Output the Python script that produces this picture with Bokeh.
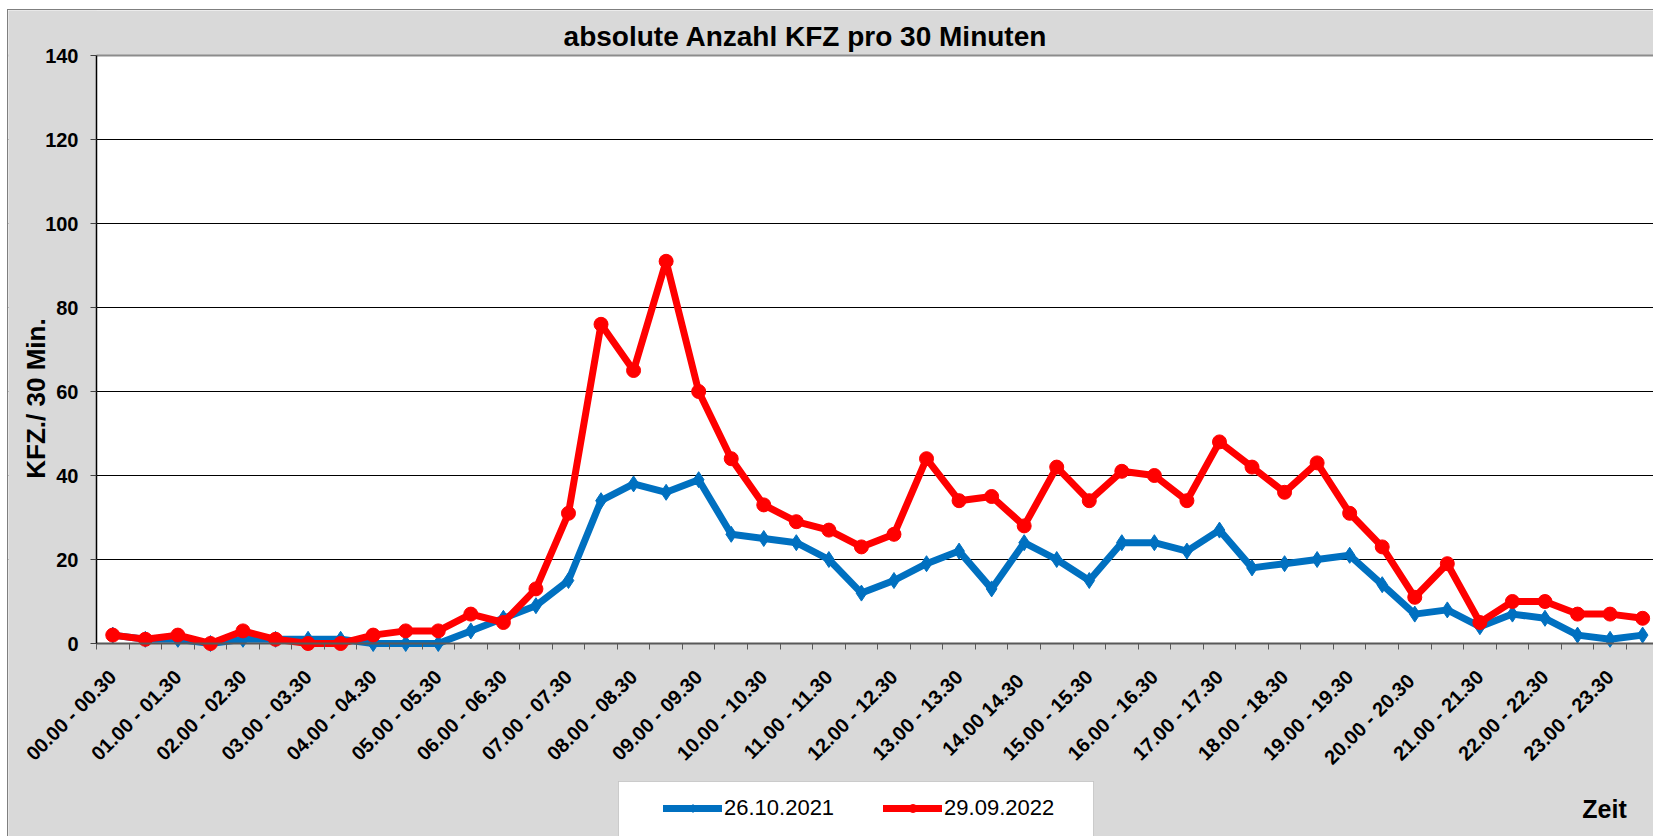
import math
from bokeh.plotting import figure
from bokeh.models import (FixedTicker, Legend, LegendItem, Span, Range1d, Label, BoxAnnotation)
from bokeh.embed import file_html
from bokeh.resources import INLINE

# ---- data ----
tick_labels = ["00.00 - 00.30", "01.00 - 01.30", "02.00 - 02.30", "03.00 - 03.30",
               "04.00 - 04.30", "05.00 - 05.30", "06.00 - 06.30", "07.00 - 07.30",
               "08.00 - 08.30", "09.00 - 09.30", "10.00 - 10.30", "11.00 - 11.30",
               "12.00 - 12.30", "13.00 - 13.30", "14.00  14.30", "15.00 - 15.30",
               "16.00 - 16.30", "17.00 - 17.30", "18.00 - 18.30", "19.00 - 19.30",
               "20.00 -  20.30", "21.00 - 21.30", "22.00 - 22.30", "23.00 - 23.30"]
slots = list(range(48))  # half-hour slots
series_2021 = [2, 1, 1, 0, 1, 1, 1, 1, 0, 0, 0, 3, 6,
               9, 15, 34, 38, 36, 39, 26, 25, 24, 20, 12, 15, 19, 22, 13,
               24, 20, 15, 24, 24, 22, 27, 18, 19, 20, 21, 14, 7, 8, 4, 7, 6, 2, 1, 2]
series_2022 = [2, 1, 2, 0, 3, 1, 0, 0, 2, 3, 3, 7, 5,
               13, 31, 76, 65, 91, 60, 44, 33, 29, 27, 23, 26, 44, 34, 35,
               28, 42, 34, 41, 40, 34, 48, 42, 36, 43, 31, 23, 11, 19, 5, 10, 10, 7, 7, 6]
name_2021 = "26.10.2021"
name_2022 = "29.09.2022"
y_ticks = [0, 20, 40, 60, 80, 100, 120, 140]
title_text = "absolute Anzahl KFZ pro 30 Minuten"
y_title = "KFZ./ 30 Min."
x_title = "Zeit"

FONT = "Liberation Sans"
BLUE = "#0070C0"
RED = "#FF0000"
GRAY_BG = "#D9D9D9"

# layout (pixels); the frame spans the whole canvas
W, H = 1646, 827
CAT_W = 32.55            # width of one half-hour slot
LEFT_PAD = 88            # canvas px left of the value axis
RIGHT_SPAN = 1558        # canvas px right of the value axis
TOP_PAD = 45             # canvas px above the top value
PX_PER_UNIT = 4.2        # vertical scale
X_START = slots[0] - 0.5
x_lo = X_START - LEFT_PAD / CAT_W
x_hi = X_START + RIGHT_SPAN / CAT_W
y_hi = y_ticks[-1] + TOP_PAD / PX_PER_UNIT
y_lo = y_hi - H / PX_PER_UNIT

p = figure(width=W, height=H, output_backend="svg", toolbar_location=None,
           x_range=Range1d(x_lo, x_hi), y_range=Range1d(y_lo, y_hi),
           min_border_left=0, min_border_right=0, min_border_top=0, min_border_bottom=0,
           background_fill_color=GRAY_BG, border_fill_color=GRAY_BG,
           outline_line_color=None,
           styles={"margin-left": "7px", "margin-top": "9px",
                   "border-left": "1px solid #7f7f7f", "border-top": "1px solid #7f7f7f"})
if p.title is not None:
    p.title.visible = False

# white plotting area
p.add_layout(BoxAnnotation(left=X_START, bottom=y_ticks[0], top=y_ticks[-1], fill_color="white",
                           fill_alpha=1, line_color=None, level="image"))

# x axis, drawn at value 0
p.xaxis.fixed_location = y_ticks[0]
p.xaxis.bounds = (X_START, slots[-1] + 0.5)
p.xaxis.ticker = FixedTicker(ticks=slots[::2], minor_ticks=[s - 0.5 for s in slots] + [slots[-1] + 0.5])
p.xaxis.major_label_overrides = {s: lab for s, lab in zip(slots[::2], tick_labels)}
p.xaxis.major_label_orientation = math.pi / 4
p.xaxis.major_label_text_font = FONT
p.xaxis.major_label_text_font_style = "bold"
p.xaxis.major_label_text_font_size = "20px"
p.xaxis.major_label_text_color = "black"
p.xaxis.major_label_standoff = 24
p.xaxis.major_tick_out = 0
p.xaxis.major_tick_in = 0
p.xaxis.minor_tick_out = 6
p.xaxis.minor_tick_in = 0
p.xaxis.minor_tick_line_color = "#595959"
p.xaxis.axis_line_color = "#595959"
p.xaxis.axis_line_width = 2

# y axis, drawn at the left edge of the first slot
p.yaxis.fixed_location = X_START
p.yaxis.bounds = (y_ticks[0], y_ticks[-1])
p.yaxis.ticker = FixedTicker(ticks=y_ticks)
p.yaxis.major_label_text_font = FONT
p.yaxis.major_label_text_font_style = "bold"
p.yaxis.major_label_text_font_size = "20px"
p.yaxis.major_label_text_color = "black"
p.yaxis.major_label_standoff = 12
p.yaxis.major_tick_out = 6
p.yaxis.major_tick_in = 0
p.yaxis.minor_tick_line_color = None
p.yaxis.axis_line_color = "black"
p.yaxis.axis_line_width = 1.5
p.yaxis.major_tick_line_color = "#404040"

p.xgrid.grid_line_color = None
p.ygrid.ticker = FixedTicker(ticks=y_ticks[1:-1])
p.ygrid.grid_line_color = "black"
p.ygrid.grid_line_width = 1
p.add_layout(Span(location=y_ticks[-1], dimension="width", line_color="#8c8c8c", line_width=2,
                  level="underlay"))
# grey band left of the value axis (hides grid lines there)
p.add_layout(BoxAnnotation(right=X_START, fill_color=GRAY_BG, fill_alpha=1, line_color=None,
                           level="underlay"))

# series
bl = p.line(slots, series_2021, line_color=BLUE, line_width=7, line_join="round", line_cap="round")
bs = p.scatter(slots, series_2021, marker="diamond", size=16, fill_color=BLUE, line_color=BLUE)
rl = p.line(slots, series_2022, line_color=RED, line_width=7, line_join="round", line_cap="round")
rs = p.scatter(slots, series_2022, marker="circle", size=14, fill_color=RED, line_color=RED)

# titles (screen px from the frame's bottom-left corner)
p.add_layout(Label(x=797, y=801, x_units="screen", y_units="screen", text=title_text,
                   text_align="center", text_baseline="alphabetic", text_font=FONT,
                   text_font_style="bold", text_font_size="28px", text_color="black"))
p.add_layout(Label(x=27, y=439, x_units="screen", y_units="screen", angle=math.pi / 2,
                   text=y_title, text_align="center", text_baseline="middle",
                   text_font=FONT, text_font_style="bold", text_font_size="26px",
                   text_color="black"))
p.add_layout(Label(x=1596, y=29, x_units="screen", y_units="screen", text=x_title,
                   text_align="center", text_baseline="middle", text_font=FONT,
                   text_font_style="bold", text_font_size="25px", text_color="black"))

# legend box and legend
p.add_layout(BoxAnnotation(left=610, right=1085, top=56, bottom=1,
                           left_units="screen", right_units="screen",
                           top_units="screen", bottom_units="screen",
                           fill_color="white", fill_alpha=1,
                           line_color="#7f7f7f", line_width=1))
legend = Legend(items=[LegendItem(label=name_2021, renderers=[bl, bs]),
                       LegendItem(label=name_2022, renderers=[rl, rs])],
                orientation="horizontal", location=(655, 16),
                glyph_width=59, glyph_height=20, label_standoff=2, spacing=49,
                padding=0, margin=0, background_fill_alpha=0, border_line_color=None,
                label_text_font=FONT, label_text_font_size="22px", label_text_color="black")
p.add_layout(legend, "center")

open("out.html", "w").write(file_html(p, INLINE))
